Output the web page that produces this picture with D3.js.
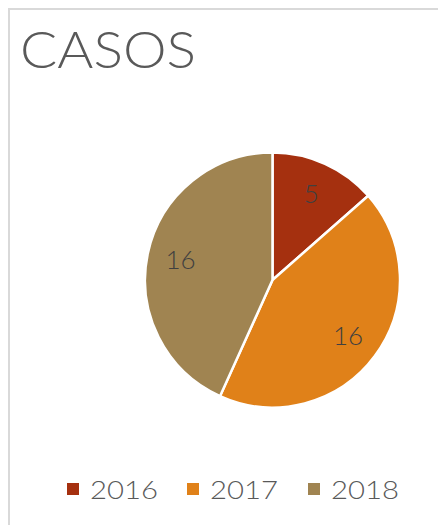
<!DOCTYPE html>
<html>
<head>
<meta charset="utf-8">
<script src="https://cdn.jsdelivr.net/npm/d3@7"></script>
<style>
  html, body { margin: 0; padding: 0; background: #fff; }
  svg { display: block; font-family: "Lato", "Open Sans", sans-serif; }
</style>
</head>
<body>
<div id="chart"></div>
<script>
const YEARS  = ["2016", "2017", "2018"];
const VALUES = [5, 16, 16];
const COLORS = ["#A5300F", "#E08119", "#A08451"];
const TITLE  = "CASOS";

const W = 438, H = 525;
const cx = 272.5, cy = 280, R = 127.5;

const svg = d3.select("#chart").append("svg")
  .attr("width", W).attr("height", H);

// chart frame (only top + left edges visible in the crop)
svg.append("rect")
  .attr("x", 9).attr("y", 9)
  .attr("width", W + 20).attr("height", H + 20)
  .attr("fill", "#fff")
  .attr("stroke", "#d9d9d9").attr("stroke-width", 2);

// Title
svg.append("text")
  .attr("x", 20).attr("y", 68)
  .attr("fill", "#595959")
  .attr("font-size", "52px")
  .attr("font-weight", 300)
  .attr("textLength", 176).attr("lengthAdjust", "spacingAndGlyphs")
  .text(TITLE);

const data = YEARS.map((y, i) => ({ year: y, value: VALUES[i], color: COLORS[i] }));

const pie = d3.pie().value((d) => d.value).sort(null);
const arc = d3.arc().innerRadius(0).outerRadius(R);
const labelArc = d3.arc().innerRadius(94).outerRadius(94);

const g = svg.append("g").attr("transform", `translate(${cx},${cy})`);

g.selectAll(".slice")
  .data(pie(data))
  .join("path")
  .attr("class", "slice")
  .attr("d", arc)
  .attr("fill", (d) => d.data.color)
  .attr("stroke", "#fff")
  .attr("stroke-width", 2.5)
  .attr("stroke-linejoin", "round");

g.selectAll(".val")
  .data(pie(data))
  .join("text")
  .attr("class", "val")
  .attr("transform", (d) => `translate(${labelArc.centroid(d)})`)
  .attr("text-anchor", "middle")
  .attr("dy", "0.35em")
  .attr("fill", "#404040")
  .attr("font-size", "26px")
  .attr("font-weight", 300)
  .text((d) => d.data.value);

// Legend
const legendX = [67, 187, 308];
const leg = svg.selectAll(".leg")
  .data(data)
  .join("g")
  .attr("class", "leg")
  .attr("transform", (d, i) => `translate(${legendX[i]},483)`);

leg.append("rect")
  .attr("width", 12).attr("height", 12)
  .attr("fill", (d) => d.color);

leg.append("text")
  .attr("x", 23).attr("y", 15.5)
  .attr("fill", "#595959")
  .attr("font-size", "26px")
  .attr("font-weight", 300)
  .attr("textLength", 68).attr("lengthAdjust", "spacingAndGlyphs")
  .text((d) => d.year);
</script>
</body>
</html>
